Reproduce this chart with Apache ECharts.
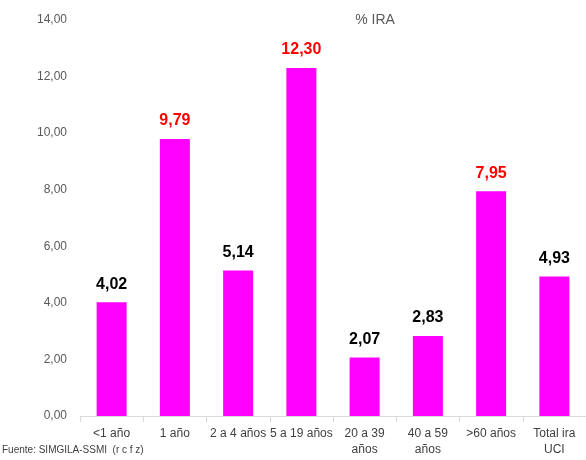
<!DOCTYPE html>
<html>
<head>
<meta charset="UTF-8">
<title>% IRA</title>
<script src="https://cdn.jsdelivr.net/npm/echarts@6/dist/echarts.min.js"></script>
</head>
<body style="margin:0;">
<div id="container" style="width:586px;height:460px;"></div>
<script>
var categories = ['<1 año', '1 año', '2 a 4 años', '5 a 19 años', '20 a 39\naños', '40 a 59\naños', '>60 años', 'Total ira\nUCI'];
var values = [4.02, 9.79, 5.14, 12.30, 2.07, 2.83, 7.95, 4.93];
var labelColors = ['#000000', '#FF0000', '#000000', '#FF0000', '#000000', '#000000', '#FF0000', '#000000'];

var fmt = function (v) { return v.toFixed(2).replace('.', ','); };

var chart = echarts.init(document.getElementById('container'));
var option = {
  animation: false,
  backgroundColor: '#ffffff',
  textStyle: { fontFamily: 'Liberation Sans Narrow, Liberation Sans, sans-serif' },
  title: {
    text: '% IRA',
    left: 370,
    top: 8,
    textAlign: 'center',
    textStyle: { fontSize: 14, fontWeight: 'normal', color: '#595959', fontFamily: 'Liberation Sans Narrow, Liberation Sans, sans-serif' }
  },
  graphic: [{
    type: 'text',
    left: 2,
    top: 445,
    style: { text: 'Fuente: SIMGILA-SSMI  (r c f z)', fontSize: 10, fill: '#404040', fontFamily: 'Liberation Sans Narrow, sans-serif' }
  }],
  grid: { left: 80, right: -5, top: 20, bottom: 44 },
  xAxis: {
    type: 'category',
    data: categories,
    axisLine: { lineStyle: { color: '#d9d9d9' } },
    axisTick: { show: true, length: 6, lineStyle: { color: '#d9d9d9' } },
    axisLabel: { color: '#404040', fontSize: 12, lineHeight: 16, margin: 10, interval: 0 }
  },
  yAxis: {
    type: 'value',
    min: 0,
    max: 14,
    interval: 2,
    axisLine: { show: false },
    axisTick: { show: false },
    splitLine: { show: false },
    axisLabel: { color: '#595959', fontSize: 12, margin: 13, formatter: fmt }
  },
  series: [{
    type: 'bar',
    barWidth: 30,
    itemStyle: { color: '#FF00FF' },
    data: values.map(function (v, i) {
      return {
        value: v,
        label: { color: labelColors[i] }
      };
    }),
    label: {
      show: true,
      position: 'top',
      distance: 10,
      fontSize: 16,
      fontWeight: 'bold',
      formatter: function (p) { return fmt(p.value); }
    }
  }]
};
chart.setOption(option);
</script>
</body>
</html>
